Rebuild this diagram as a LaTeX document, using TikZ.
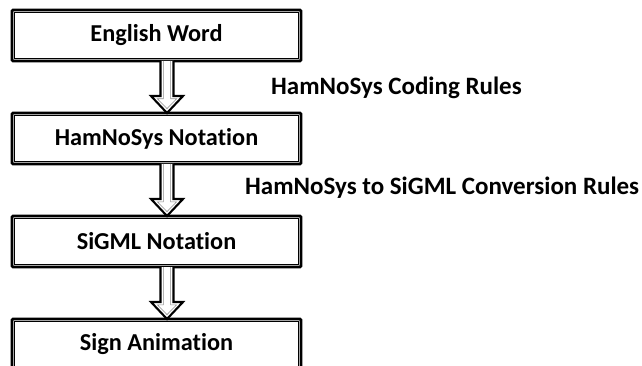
\documentclass[tikz,border=0pt]{standalone}
\usepackage{fontspec}
\setmainfont{Carlito}[Ligatures=NoCommon]
\usetikzlibrary{positioning,calc}
\tikzset{
    every picture/.style={line join=miter},
    stagebox/.style={draw=black,fill=white,line width=2.6pt,rounded corners=1pt,
      minimum width=289pt,minimum height=51pt,inner sep=2pt,
      font=\fontsize{24.3}{28}\selectfont\bfseries,align=center},
    innerframe/.style={draw=black,line width=0.7pt},
    rulelabel/.style={anchor=base west,inner sep=0pt,font=\fontsize{25}{28}\selectfont\bfseries},
    arrowline/.style={draw=black,fill=white,line width=2.1pt},
    arrowinner/.style={draw=black!45,line width=0.6pt},
    blockarrow/.pic={
      \draw[arrowline] (-6.5,0) -- (-6.5,35) -- (-16,35) -- (0,52) -- (16,35) -- (6.5,35) -- (6.5,0);
      \draw[arrowinner] (-3.6,0) -- (-3.6,37.8) -- (-9.6,37.8) -- (0,47.6) -- (9.6,37.8) -- (3.6,37.8) -- (3.6,0);
    }
}
\begin{document}
\begin{tikzpicture}[x=1pt,y=-1pt]
  \useasboundingbox (0,0) rectangle (642,366);
  % stages
  \foreach \txt [count=\i from 0] in {English Word,HamNoSys Notation,SiGML Notation,Sign Animation}{
    \node[stagebox] (s\i) at (156.5,35.5+103*\i) {\txt};
    \draw[innerframe] ([shift={(3.6pt,-3.6pt)}]s\i.north west) rectangle ([shift={(-3.6pt,3.6pt)}]s\i.south east);
  }
  % arrows between stages
  \foreach \i in {0,1,2}{\pic at ([xshift=10.5pt,yshift=1.3pt]s\i.south) {blockarrow};}
  \node[rulelabel] (codingrules) at (271,94.7) {HamNoSys Coding Rules};
  \node[rulelabel] (convrules) at (245,194) {HamNoSys to SiGML Conversion Rules};
\end{tikzpicture}
\end{document}
